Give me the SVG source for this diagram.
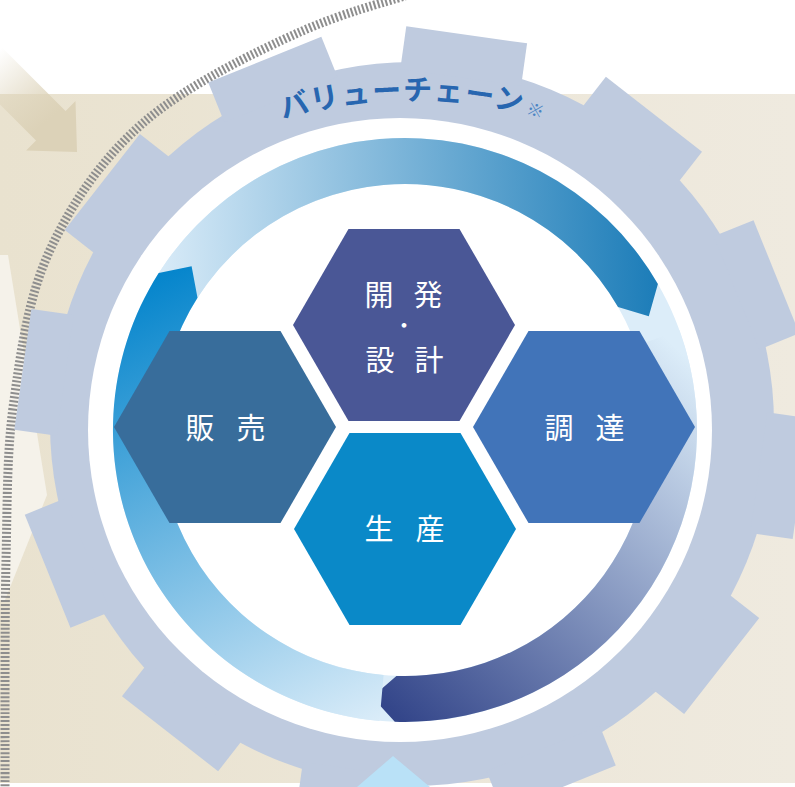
<svg xmlns="http://www.w3.org/2000/svg" width="795" height="787" viewBox="0 0 795 787">
<style>
.gear{fill:#bfcbdf}
.hex text{font-family:"Noto Sans CJK JP","Noto Sans",sans-serif;font-size:29px;fill:#ffffff;text-anchor:middle}
.title{font-family:"Noto Sans CJK JP","Noto Sans",sans-serif;font-weight:700;font-size:29px;fill:#2766b0;letter-spacing:1.5px}
</style>
<defs>
<linearGradient id="bg" x1="0" y1="0" x2="1" y2="0"><stop offset="0" stop-color="#e9e2cf"/><stop offset="1" stop-color="#efeadf"/></linearGradient>
<linearGradient id="gBeige" gradientUnits="userSpaceOnUse" x1="5" y1="45" x2="60" y2="110"><stop offset="0" stop-color="#dcd2b8" stop-opacity="0"/><stop offset="1" stop-color="#dcd2b8" stop-opacity="1"/></linearGradient>
<linearGradient id="gTop" gradientUnits="userSpaceOnUse" x1="150" y1="300" x2="660" y2="280"><stop offset="0" stop-color="#dcedf9"/><stop offset="1" stop-color="#1b7cb8"/></linearGradient>
<linearGradient id="gLeft" gradientUnits="userSpaceOnUse" x1="390" y1="720" x2="170" y2="270"><stop offset="0" stop-color="#dcedf9"/><stop offset="1" stop-color="#0585cc"/></linearGradient>
<linearGradient id="gBottom" gradientUnits="userSpaceOnUse" x1="690" y1="360" x2="380" y2="700"><stop offset="0" stop-color="#dcedf9"/><stop offset="1" stop-color="#34468a"/></linearGradient>
<rect id="tooth" x="350" y="-61" width="43" height="122"/>
<path id="titleArc" d="M -47,560 A 460 460 0 0 1 873,560"/>
</defs>

<rect width="795" height="787" fill="#ffffff"/>
<rect x="0" y="94" width="795" height="689" fill="url(#bg)"/>
<polygon points="0,255 8,255 47,495 5,600 0,600" fill="#f5f2ea"/>

<polygon points="36,140.6 26.1,150.5 77,152 75.5,101.1 65.6,111 -40.5,5 -70,34.5" fill="url(#gBeige)"/>

<path d="M5,790 C5.2,751.7 4.5,625 6,560 C7.5,495 6.7,451.7 14,400 C21.3,348.3 28.5,296.2 50,250 C71.5,203.8 101.3,159.3 143,123 C184.7,86.7 252.2,53.3 300,32 C340,14 385,2 405,-4" fill="none" stroke="#8e8e8e" stroke-width="9" stroke-dasharray="2 2"/>

<g id="gear" class="gear" transform="translate(412 424)">
<circle r="362"/>
<use href="#tooth" transform="rotate(-82)"/>
<use href="#tooth" transform="rotate(-52)"/>
<use href="#tooth" transform="rotate(-22)"/>
<use href="#tooth" transform="rotate(8)"/>
<use href="#tooth" transform="rotate(38)"/>
<use href="#tooth" transform="rotate(68)"/>
<use href="#tooth" transform="rotate(98)"/>
<use href="#tooth" transform="rotate(128)"/>
<use href="#tooth" transform="rotate(158)"/>
<use href="#tooth" transform="rotate(188)"/>
<use href="#tooth" transform="rotate(218)"/>
<use href="#tooth" transform="rotate(248)"/>
</g>

<circle cx="400" cy="430" r="312" fill="#ffffff"/>

<g id="ring">
<path d="M405,138 A292 292 0 1 1 404.99,138 Z M405,184 A246 246 0 1 0 405.01,184 Z" fill="#dcedf9" fill-rule="evenodd"/>
<path id="arrow-top" d="M130.6,330.1 A292 292 0 0 1 657.9,284 L648.8,316.3 L618,307 A246 246 0 0 0 173.8,345.9 Z" fill="url(#gTop)"/>
<path id="arrow-bottom" d="M679.4,330.1 A292 292 0 0 1 394.8,721.8 L372.2,697 L396.4,675.9 A246 246 0 0 0 636.2,345.9 Z" fill="url(#gBottom)"/>
<path id="arrow-left" d="M379.5,720.9 A292 292 0 0 1 158.7,273.1 L191.6,266.2 L197.5,297.8 A246 246 0 0 0 383.6,675.1 Z" fill="url(#gLeft)"/>
</g>

<g id="node-kaihatsu" class="hex">
<polygon points="293,325 348.5,228.9 459.5,228.9 515,325 459.5,421.1 348.5,421.1" fill="#4a5796"/>
<text x="379 428" y="306">開発</text>
<text x="404" y="333" style="font-size:22px">・</text>
<text x="380 429" y="371">設計</text>
</g>
<g id="node-hanbai" class="hex">
<polygon points="114,427 169.5,330.9 280.5,330.9 336,427 280.5,523.1 169.5,523.1" fill="#386d9b"/>
<text x="200 251" y="439">販売</text>
</g>
<g id="node-chotatsu" class="hex">
<polygon points="473,427 528.5,330.9 639.5,330.9 695,427 639.5,523.1 528.5,523.1" fill="#4174b9"/>
<text x="559 610" y="439">調達</text>
</g>
<g id="node-seisan" class="hex">
<polygon points="294,529 349.5,432.9 460.5,432.9 516,529 460.5,625.1 349.5,625.1" fill="#0a89c8"/>
<text x="379 430" y="540">生産</text>
</g>

<text class="title"><textPath href="#titleArc" startOffset="50%" text-anchor="middle">バリューチェーン<tspan font-size="17" fill="#4a84c4" dx="3">※</tspan></textPath></text>

<polygon points="357,787 393,756 430,787" fill="#b9e1f7"/>
</svg>
